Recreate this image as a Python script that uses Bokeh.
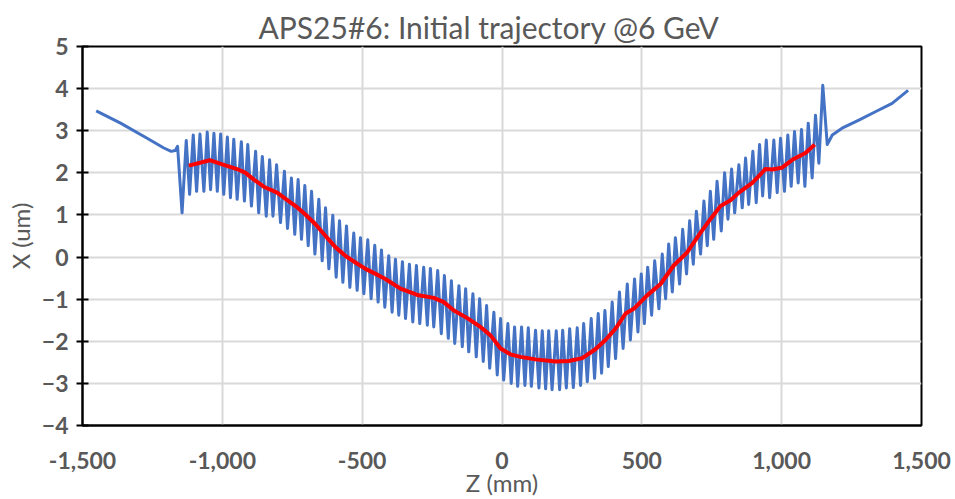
from bokeh.plotting import figure
from bokeh.models import FixedTicker, NumeralTickFormatter
from bokeh.embed import file_html
from bokeh.resources import INLINE

# ---------------- data ----------------
title_text = "APS25#6: Initial trajectory @6 GeV"
x_label = "Z (mm)"
y_label = "X (um)"
x_ticks = [-1500, -1000, -500, 0, 500, 1000, 1500]
y_ticks = [-4, -3, -2, -1, 0, 1, 2, 3, 4, 5]

# blue trace: drift before the first oscillation
lead_z = [-1451, -1364, -1269, -1209, -1183, -1168, -1160, -1144]
lead_x = [3.47, 3.18, 2.82, 2.59, 2.51, 2.53, 2.63, 1.05]

# blue trace: oscillation maxima
peak_z = [-1129, -1104, -1080, -1054, -1030, -1006, -982, -959, -932, -909,
          -881, -857, -831, -806, -778, -753, -729, -705, -681, -655,
          -631, -605, -581, -556, -530, -506, -480, -455, -431, -405,
          -381, -356, -331, -306, -280, -256, -230, -206, -181, -154,
          -130, -104, -80, -55, -29, -5, 21, 45, 70, 94,
          120, 144, 167, 194, 217, 242, 269, 292, 319, 344,
          368, 394, 420, 448, 474, 498, 521, 546, 573, 596,
          620, 646, 671, 695, 722, 745, 769, 796, 821, 847,
          871, 897, 921, 945, 972, 996, 1022, 1046, 1071, 1095,
          1121, 1147]
peak_x = [2.77, 2.90, 2.92, 2.97, 2.94, 2.92, 2.85, 2.80, 2.74, 2.67,
          2.51, 2.39, 2.31, 2.19, 2.04, 1.88, 1.84, 1.70, 1.56, 1.37,
          1.17, 0.99, 0.86, 0.74, 0.57, 0.46, 0.41, 0.28, 0.17, 0.03,
          -0.05, -0.11, -0.17, -0.20, -0.24, -0.27, -0.32, -0.44, -0.56, -0.68,
          -0.75, -0.87, -0.99, -1.15, -1.31, -1.46, -1.58, -1.66, -1.66, -1.68,
          -1.74, -1.75, -1.75, -1.75, -1.74, -1.70, -1.68, -1.58, -1.46, -1.34,
          -1.27, -1.07, -0.83, -0.64, -0.52, -0.40, -0.24, -0.09, 0.07, 0.31,
          0.46, 0.66, 0.86, 1.09, 1.33, 1.56, 1.80, 2.00, 2.09, 2.19,
          2.35, 2.51, 2.67, 2.78, 2.78, 2.82, 2.90, 2.98, 3.03, 3.18,
          3.37, 4.08]

# blue trace: oscillation minima
trough_z = [-1117, -1092, -1066, -1042, -1018, -995, -971, -947, -921, -896,
            -870, -843, -819, -792, -767, -741, -717, -693, -669, -643,
            -619, -593, -569, -544, -518, -494, -468, -443, -419, -393,
            -369, -345, -319, -294, -267, -244, -217, -192, -169, -142,
            -119, -92, -67, -44, -17, 6, 33, 56, 82, 105,
            132, 156, 179, 206, 230, 255, 281, 305, 331, 356,
            380, 406, 433, 459, 486, 509, 535, 561, 585, 609,
            635, 660, 684, 710, 734, 757, 784, 808, 832, 859,
            882, 909, 932, 957, 984, 1010, 1034, 1059, 1083, 1109,
            1133]
trough_x = [1.49, 1.56, 1.56, 1.60, 1.56, 1.49, 1.41, 1.37, 1.33, 1.21,
            1.05, 0.97, 0.97, 0.82, 0.68, 0.54, 0.42, 0.27, 0.07, -0.09,
            -0.28, -0.48, -0.60, -0.72, -0.79, -0.87, -0.99, -1.07, -1.19, -1.31,
            -1.38, -1.46, -1.54, -1.58, -1.62, -1.66, -1.82, -1.93, -2.05, -2.13,
            -2.25, -2.37, -2.48, -2.64, -2.80, -2.92, -3.00, -3.07, -3.05, -3.07,
            -3.11, -3.13, -3.15, -3.15, -3.11, -3.10, -3.05, -2.96, -2.88, -2.76,
            -2.60, -2.41, -2.17, -1.97, -1.78, -1.58, -1.38, -1.23, -0.99, -0.83,
            -0.64, -0.40, -0.17, 0.07, 0.27, 0.42, 0.62, 0.90, 1.05, 1.17,
            1.25, 1.29, 1.45, 1.41, 1.53, 1.56, 1.68, 1.76, 1.68, 1.88,
            2.23]

# blue trace: drift after the last oscillation
tail_z = [1163, 1181, 1216, 1276, 1335, 1395, 1452]
tail_x = [2.67, 2.90, 3.06, 3.25, 3.45, 3.65, 3.96]

# red trace: averaged trajectory
red_z = [-1120, -1045, -995, -947, -917, -887, -852, -804, -774, -738,
         -703, -667, -631, -595, -560, -524, -488, -452, -417, -363,
         -303, -244, -208, -172, -124, -77, -41, -5, 30, 66,
         120, 191, 239, 287, 334, 370, 406, 442, 471, 519,
         567, 614, 662, 710, 745, 781, 817, 847, 895, 942,
         966, 1000, 1038, 1085, 1118]
red_x = [2.17, 2.30, 2.19, 2.09, 2.00, 1.84, 1.67, 1.53, 1.38, 1.21,
         1.01, 0.78, 0.50, 0.23, 0.03, -0.13, -0.28, -0.40, -0.52, -0.75,
         -0.90, -0.97, -1.07, -1.27, -1.45, -1.66, -1.86, -2.17, -2.31, -2.37,
         -2.43, -2.48, -2.47, -2.40, -2.19, -1.97, -1.70, -1.34, -1.23, -0.91,
         -0.64, -0.20, 0.11, 0.58, 0.90, 1.21, 1.35, 1.53, 1.76, 2.09,
         2.08, 2.12, 2.31, 2.47, 2.67]

# assemble the blue trace in order (peak, trough, peak, ...)
osc_z, osc_x = [], []
for i in range(len(trough_z)):
    osc_z += [peak_z[i], trough_z[i]]
    osc_x += [peak_x[i], trough_x[i]]
osc_z.append(peak_z[-1])
osc_x.append(peak_x[-1])
blue_z = lead_z + osc_z + tail_z
blue_x = lead_x + osc_x + tail_x

# ---------------- figure ----------------
TXT = "#595959"
FONT = "Lato"

p = figure(width=955, height=499, x_range=(-1500, 1500), y_range=(-4, 5),
           output_backend="svg", toolbar_location=None,
           min_border_left=82, min_border_right=34,
           min_border_top=46, min_border_bottom=72,
           title=title_text)

p.background_fill_color = "white"
p.border_fill_color = "white"
p.outline_line_color = "black"
p.outline_line_width = 2

p.title.align = "left"
p.title.offset = 176
p.title.vertical_align = "top"
p.title.standoff = 0
p.title.text_font = FONT
p.title.text_font_size = "30px"
p.title.text_font_style = "normal"
p.title.text_color = TXT

p.xaxis.ticker = FixedTicker(ticks=x_ticks)
p.xaxis.formatter = NumeralTickFormatter(format="0,0")
p.yaxis.ticker = FixedTicker(ticks=y_ticks)

for ax in (p.xaxis[0], p.yaxis[0]):
    ax.axis_line_color = "black"
    ax.axis_line_width = 2
    ax.major_label_text_font = FONT
    ax.major_label_text_font_size = "23px"
    ax.major_label_text_font_style = "bold"
    ax.major_label_text_color = TXT
    ax.axis_label_text_font = FONT
    ax.axis_label_text_font_size = "24px"
    ax.axis_label_text_font_style = "normal"
    ax.axis_label_text_color = TXT
    ax.minor_tick_line_color = None

p.xaxis.axis_label = x_label
p.xaxis.major_tick_out = 0
p.xaxis.major_tick_in = 0
p.xaxis.major_label_standoff = 26
p.xaxis.axis_label_standoff = -4

p.yaxis.axis_label = y_label
p.yaxis.major_tick_out = 6
p.yaxis.major_tick_in = 6
p.yaxis.major_tick_line_color = "black"
p.yaxis.major_tick_line_width = 2
p.yaxis.major_label_standoff = 8
p.yaxis.axis_label_standoff = 4

p.xgrid.grid_line_color = "#D9D9D9"
p.ygrid.grid_line_color = "#D9D9D9"
p.xgrid.grid_line_width = 2
p.ygrid.grid_line_width = 2

p.line(blue_z, blue_x, line_color="#4472C4", line_width=3, line_join="round")
p.line(red_z, red_x, line_color="#FF0000", line_width=4, line_join="round")

open("out.html", "w").write(file_html(p, INLINE))
